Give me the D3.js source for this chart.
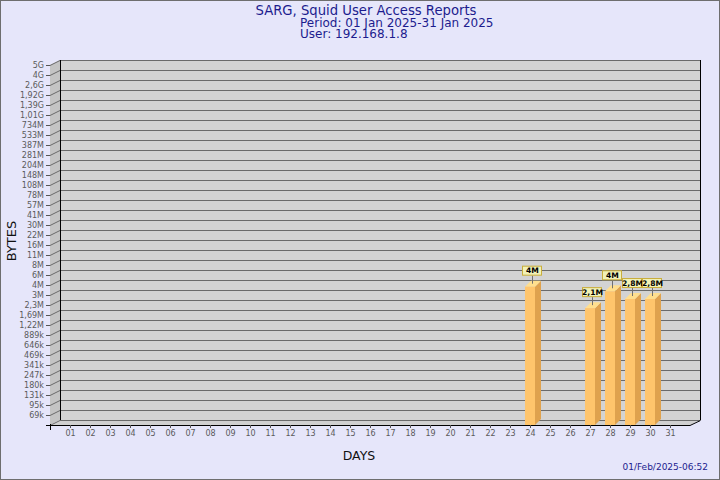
<!DOCTYPE html>
<html><head><meta charset="utf-8">
<script src="https://cdn.jsdelivr.net/npm/d3@7/dist/d3.min.js"></script>
<style>html,body{margin:0;padding:0;background:#E6E6FA;} svg{display:block;}</style>
</head><body><svg id="c" width="720" height="480"></svg>
<script>
const title = "SARG, Squid User Access Reports";
const subLines = ["Period: 01 Jan 2025-31 Jan 2025", "User: 192.168.1.8"];
const stamp = "01/Feb/2025-06:52";
const xTitle = "DAYS";
const yTitle = "BYTES";
const days = ["01","02","03","04","05","06","07","08","09","10","11","12","13","14","15","16",
              "17","18","19","20","21","22","23","24","25","26","27","28","29","30","31"];
const barDays = ["24","27","28","29","30"];
const barBytes = [4170000, 2100000, 3600000, 2810000, 2810000];
const barLabels = ["4M","2,1M","4M","2,8M","2,8M"];
const yTickLabels = ["69k","95k","131k","180k","247k","341k","469k","646k","889k","1,22M","1,69M","2,3M",
  "3M","4M","6M","8M","11M","16M","22M","30M","41M","57M","78M","108M","148M","204M","281M","387M",
  "533M","734M","1,01G","1,39G","1,92G","2,6G","4G","5G"];

const W = 720, H = 480;
const L = 50, R = 690, B = 425, T = 65;   // front plane
const DX = 10, DY = -5;                   // wall depth
const svg = d3.select("#c");

svg.append("rect").attr("x",0.5).attr("y",0.5).attr("width",W-1).attr("height",H-1)
  .attr("fill","#E6E6FA").attr("stroke","#6e6e6e");

const x = d3.scalePoint().domain(days).range([L+20, R-20]);
const y = d3.scaleLog().domain([5e4, 5e9]).range([B, T]);
const yTickVals = yTickLabels.map((_, i) => y.invert(B - (B - T) * (i + 1) / yTickLabels.length));

// back wall
svg.append("rect").attr("x", L+DX).attr("y", T+DY).attr("width", R-L).attr("height", B-T)
  .attr("fill","#D3D3D3");
// left wall
svg.append("path").attr("d", `M${L},${T}L${L+DX},${T+DY}L${L+DX},${B+DY}L${L},${B}Z`).attr("fill","#C4C4C4");
// floor
svg.append("path").attr("d", `M${L},${B}L${L+DX},${B+DY}L${R+DX},${B+DY}L${R},${B}Z`).attr("fill","#D0D0D0");

// gridlines on back wall + diagonal connectors on left wall
const g = svg.append("g").attr("stroke","#6a6a6a").attr("stroke-width",1).attr("fill","none");
yTickVals.forEach(v => {
  const yy = Math.round(y(v)) + 0.5;
  g.append("line").attr("x1", L+DX).attr("x2", R+DX).attr("y1", yy+DY).attr("y2", yy+DY);
  g.append("line").attr("x1", L).attr("x2", L+DX).attr("y1", yy).attr("y2", yy+DY);
});
g.append("line").attr("x1", L+DX).attr("x2", R+DX).attr("y1", B+DY+0.5).attr("y2", B+DY+0.5);
g.append("line").attr("x1", L).attr("x2", L+DX).attr("y1", B+0.5).attr("y2", B+DY+0.5);

// frame edges
const fr = svg.append("g").attr("stroke","#000").attr("stroke-width",1).attr("fill","none");
fr.append("line").attr("x1", L+DX+0.5).attr("x2", L+DX+0.5).attr("y1", T+DY).attr("y2", B+DY);
fr.append("line").attr("x1", R+DX+0.5).attr("x2", R+DX+0.5).attr("y1", T+DY).attr("y2", B+DY);
fr.append("path").attr("d", `M${L-4},${B+0.5}L${R},${B+0.5}L${R+DX+0.5},${B+DY+0.5}`);
fr.append("line").attr("x1", L+0.5).attr("x2", L+0.5).attr("y1", B-1).attr("y2", B+5);

// bars
const bw = 10, bd = 6;
const bars = svg.append("g");
barDays.forEach((d, i) => {
  const cx = x(d), top = y(barBytes[i]);
  const x0 = cx - bw/2, x1 = cx + bw/2;
  bars.append("path").attr("d", `M${x1},${top}L${x1+bd},${top-bd}L${x1+bd},${B-bd}L${x1},${B}Z`).attr("fill","#DFA24E");
  bars.append("path").attr("d", `M${x0},${top}L${x0+bd},${top-bd}L${x1+bd},${top-bd}L${x1},${top}Z`).attr("fill","#FFDF8E");
  bars.append("rect").attr("x", x0).attr("y", top).attr("width", bw).attr("height", B - top).attr("fill","#FFC56C");
  const bx = cx + 2, bb = top - bd - 5;
  bars.append("line").attr("x1", bx+0.5).attr("x2", bx+0.5).attr("y1", bb).attr("y2", top - 3)
    .attr("stroke","#707070");
  bars.append("rect").attr("x", bx - 10 + 0.5).attr("y", bb - 10 + 0.5).attr("width", 19).attr("height", 9)
    .attr("fill","#F1F1B6").attr("stroke","#C9AE3C");
  bars.append("text").attr("x", bx + 0.5).attr("y", bb - 2.3).attr("text-anchor","middle")
    .attr("font-family","DejaVu Sans").attr("font-weight","bold").attr("font-size","7.6px")
    .attr("fill","#000").text(barLabels[i]);
});

// y axis
const yAxis = d3.axisLeft(y).tickValues(yTickVals).tickSize(4).tickPadding(2)
  .tickFormat((v, i) => yTickLabels[i]);
const ya = svg.append("g").attr("transform", `translate(${L},0)`).call(yAxis);
ya.select(".domain").remove();
ya.selectAll(".tick line").attr("stroke","#555");
ya.selectAll("text").attr("font-family","DejaVu Sans").attr("font-size","8px").attr("fill","#5a5a5a");

// x axis
const xAxis = d3.axisBottom(x).tickSize(3).tickPadding(2);
const xa = svg.append("g").attr("transform", `translate(0,${B})`).call(xAxis);
xa.select(".domain").remove();
xa.selectAll(".tick line").attr("stroke","#555");
xa.selectAll("text").attr("font-family","DejaVu Sans").attr("font-size","8px").attr("fill","#5a5a5a");

// titles
const navy = "#1C1C8E";
svg.append("text").attr("x", 366).attr("y", 14.5).attr("text-anchor","middle")
  .attr("font-family","DejaVu Sans").attr("font-size","13.2px").attr("fill",navy).text(title);
subLines.forEach((s, i) => svg.append("text").attr("x", 300).attr("y", 26.5 + i*11)
  .attr("font-family","DejaVu Sans").attr("font-size","12px").attr("fill",navy).text(s));
svg.append("text").attr("x", 359).attr("y", 460).attr("text-anchor","middle")
  .attr("font-family","DejaVu Sans").attr("font-size","12.5px").attr("fill","#111").text(xTitle);
svg.append("text").attr("transform","translate(16,241) rotate(-90)").attr("text-anchor","middle")
  .attr("font-family","DejaVu Sans").attr("font-size","13px").attr("fill","#111").text(yTitle);
svg.append("text").attr("x", 708).attr("y", 470).attr("text-anchor","end")
  .attr("font-family","DejaVu Sans").attr("font-size","9px").attr("fill",navy).text(stamp);
</script>
</body></html>
